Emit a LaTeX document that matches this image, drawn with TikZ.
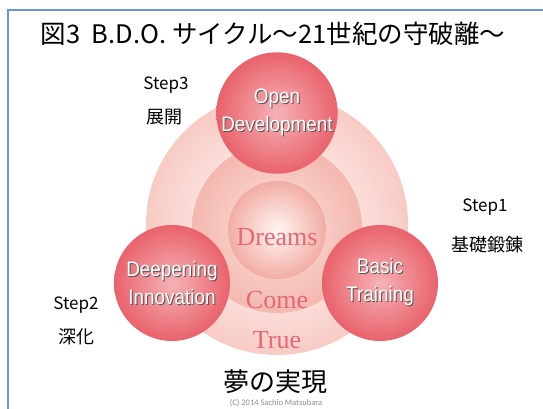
\documentclass[tikz,border=0pt]{standalone}
\usepackage{fontspec}
\usepackage{xcolor}
\newfontfamily\jpfont{Noto Sans CJK JP}
\newfontfamily\narrowsans[FakeStretch=0.9]{Liberation Sans}
\newfontfamily\dreamfont{Liberation Serif}
\newfontfamily\notefont{Carlito}

\definecolor{framebl}{HTML}{6A93D8}
\definecolor{ballin}{HTML}{F6B3B6}
\definecolor{ballout}{HTML}{E9626C}
\definecolor{outerin}{HTML}{FFFFFF}
\definecolor{outerout}{HTML}{F8CBC4}
\definecolor{midin}{HTML}{FBE2DD}
\definecolor{midout}{HTML}{F4B8AF}
\definecolor{corein}{HTML}{FFF6F3}
\definecolor{coreout}{HTML}{F2ADA4}
\definecolor{dreamred}{HTML}{E46875}
\definecolor{shadowgray}{HTML}{555555}

\pgfdeclareradialshading{ballshade}{\pgfpoint{0bp}{0bp}}{color(0bp)=(ballin); color(25bp)=(ballout); color(50bp)=(ballout)}
\pgfdeclareradialshading{outershade}{\pgfpoint{0bp}{0bp}}{color(0bp)=(outerin); color(25bp)=(outerout); color(50bp)=(outerout)}
\pgfdeclareradialshading{midshade}{\pgfpoint{0bp}{0bp}}{color(0bp)=(midin); color(25bp)=(midout); color(50bp)=(midout)}
\pgfdeclareradialshading{coreshade}{\pgfpoint{0bp}{0bp}}{color(0bp)=(corein); color(25bp)=(coreout); color(50bp)=(coreout)}

\newcommand{\shtxt}[1]{\makebox[0pt][l]{\hspace{1pt}\raisebox{-1pt}{\textcolor{shadowgray}{#1}}}\textcolor{white}{#1}}

\tikzset{
  ball/.style={circle, inner sep=0pt, minimum size=116pt, shading=ballshade,
    align=center, font=\narrowsans\fontsize{21}{28}\selectfont},
  steplabel/.style={font=\jpfont\fontsize{17}{19}\selectfont},
  stepword/.style={font=\jpfont\fontsize{18}{20}\selectfont},
  dreamword/.style={text=dreamred, font=\dreamfont\fontsize{26}{28}\selectfont},
}

\begin{document}
\begin{tikzpicture}[x=1pt, y=-1pt]
\useasboundingbox [fill=white] (0,0) rectangle (543,409);
\draw [framebl, line width=2pt] (8,409) -- (8,10) -- (543,10);

\node (title) at (273,34) [font=\jpfont\fontsize{25.5}{27}\selectfont] {図3\ \ B.D.O. サイクル～21世紀の守破離～};

\node (outer) at (277,224) [circle, minimum size=262pt, shading=outershade] {};
\node (mid) at (277,228) [circle, minimum size=170pt, shading=midshade] {};
\node (core) at (277,230) [circle, minimum size=98pt, shading=coreshade] {};

\node (dreams) at (277,237) [dreamword] {Dreams};
\node (come) at (277,300) [dreamword] {Come};
\node (true) at (277,340) [dreamword] {True};

\node (OD) at (277,113) [ball, minimum size=120pt] {\shtxt{Open}\\\shtxt{Development}};
\node (DI) at (172,283) [ball] {\shtxt{Deepening}\\\shtxt{Innovation}};
\node (BT) at (380,283) [ball] {\shtxt{Basic}\\\shtxt{Training}};

\node (s3) at (166,85) [steplabel] {Step3};
\node (s3w) at (164,117) [stepword] {展開};
\node (s1) at (485,207) [steplabel] {Step1};
\node (s1w) at (487,245) [stepword] {基礎鍛錬};
\node (s2) at (76,305) [steplabel] {Step2};
\node (s2w) at (76,337) [stepword] {深化};

\node (goal) at (275,382) [font=\jpfont\fontsize{26}{28}\selectfont] {夢の実現};
\node (note) at (276,403) [text=black!45, font=\notefont\fontsize{8.5}{9}\selectfont] {(C) 2014 Sachio Matsubara};
\end{tikzpicture}
\end{document}
